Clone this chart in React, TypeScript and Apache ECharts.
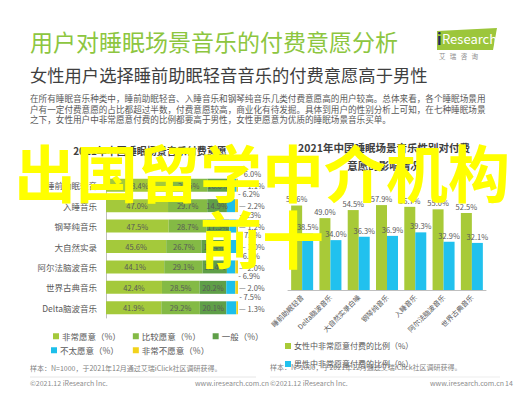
import React, { useEffect, useRef } from "react";
import * as echarts from "echarts";

const leftCategories = ["睡前助眠轻音", "入睡音乐", "钢琴纯音乐", "大自然实录", "阿尔法脑波音乐", "世界古典音乐", "Delta脑波音乐"];
const veryWilling = [48.4, 47.0, 47.5, 45.6, 44.1, 42.4, 41.9];
const ratherWilling = [28.5, 29.7, 28.7, 26.7, 29.1, 28.5, 29.2];
const neutral = [16.0, 14.9, 17.3, 19.4, 18.4, 20.2, 20.1];
const notVery = [6.0, 6.2, 5.3, 7.3, 6.4, 6.9, 7.5];
const notAtAll = [1.1, 2.2, 1.2, 1.0, 2.0, 2.0, 1.3];

const rightCategories = ["睡前助眠轻音", "Delta脑波音乐", "大自然实录白噪", "钢琴纯音乐", "入睡音乐", "阿尔法脑波音乐", "世界古典音乐"];
const femaleVery = [57.6, 49.0, 54.5, 57.9, 56.7, 55.0, 52.5];
const maleVery = [38.5, 34.0, 36.3, 36.9, 39.3, 32.9, 32.1];

const leftSeriesNames = ["非常愿意（%）", "比较愿意（%）", "一般（%）", "不太愿意（%）", "非常不愿意（%）"];
const rightSeriesNames = ["女性中非常愿意付费的比例（%）", "男性中非常愿意付费的比例（%）"];

const FONT = "'Noto Sans CJK SC', 'Noto Sans', sans-serif";
const pct = (p: any) => Number(p.value).toFixed(1) + "%";

export default function App() {
  const ref = useRef<HTMLDivElement>(null);
  useEffect(() => {
    document.body.style.margin = "0";
    const chart = echarts.init(ref.current!, null, { renderer: "svg" });
    const labelGray = "#595959";
    const inside = { show: true, position: "inside", fontSize: 7.5, color: labelGray, fontFamily: FONT, formatter: pct };
    const option: any = {
      animation: false,
      backgroundColor: "#ffffff",
      textStyle: { fontFamily: FONT },
      grid: [
        { left: 106, right: 286, top: 175, bottom: 75 },
        { left: 288, right: 38, top: 202, bottom: 103 },
      ],
      xAxis: [
        { type: "value", gridIndex: 0, min: 0, max: 100, show: false },
        {
          type: "category", gridIndex: 1, data: rightCategories,
          axisLine: { lineStyle: { color: "#bfbfbf" } }, axisTick: { show: false },
          axisLabel: { rotate: 45, interval: 0, fontSize: 7, color: labelGray, margin: 6, fontFamily: FONT },
        },
      ],
      yAxis: [
        {
          type: "category", gridIndex: 0, data: leftCategories, inverse: true,
          axisLine: { lineStyle: { color: "#bfbfbf" } }, axisTick: { show: false },
          axisLabel: { fontSize: 8.5, color: labelGray, margin: 9, fontFamily: FONT },
        },
        { type: "value", gridIndex: 1, min: 0, max: 60, show: false },
      ],
      legend: [
        {
          data: leftSeriesNames.slice(0, 3), left: 48, top: 327, itemWidth: 6, itemHeight: 6, itemGap: 12, icon: "rect",
          textStyle: { fontSize: 8.5, color: labelGray, fontFamily: FONT, padding: [0, 0, 0, -2] },
        },
        {
          data: leftSeriesNames.slice(3), left: 46, top: 341, itemWidth: 6, itemHeight: 6, itemGap: 14, icon: "rect",
          textStyle: { fontSize: 8.5, color: labelGray, fontFamily: FONT, padding: [0, 0, 0, -2] },
        },
        {
          data: rightSeriesNames, left: 280, top: 337, itemWidth: 6, itemHeight: 6, itemGap: 10, icon: "rect",
          textStyle: { fontSize: 8, color: labelGray, fontFamily: FONT, padding: [0, 0, 0, -2] },
        },
      ],
      series: [
        { name: leftSeriesNames[0], type: "bar", stack: "t", xAxisIndex: 0, yAxisIndex: 0, barWidth: 13, data: veryWilling, itemStyle: { color: "#a4c93b" }, label: inside },
        { name: leftSeriesNames[1], type: "bar", stack: "t", xAxisIndex: 0, yAxisIndex: 0, barWidth: 13, data: ratherWilling, itemStyle: { color: "#84ba45" }, label: inside },
        { name: leftSeriesNames[2], type: "bar", stack: "t", xAxisIndex: 0, yAxisIndex: 0, barWidth: 13, data: neutral, itemStyle: { color: "#5f9f48" }, label: inside },
        {
          name: leftSeriesNames[3], type: "bar", stack: "t", xAxisIndex: 0, yAxisIndex: 0, barWidth: 13, data: notVery, itemStyle: { color: "#1dbfea" },
          label: { show: true, position: ["100%", -9], offset: [3, 0], fontSize: 7.5, color: labelGray, fontFamily: FONT, formatter: (p: any) => "- " + pct(p) },
        },
        {
          name: leftSeriesNames[4], type: "bar", stack: "t", xAxisIndex: 0, yAxisIndex: 0, barWidth: 13, data: notAtAll, itemStyle: { color: "#f2d21b" },
          label: { show: true, position: ["100%", 3], offset: [1, 0], fontSize: 7.5, color: labelGray, fontFamily: FONT, formatter: (p: any) => "— " + pct(p) },
        },
        {
          name: rightSeriesNames[0], type: "bar", xAxisIndex: 1, yAxisIndex: 1, barWidth: 11, barGap: "0%", data: femaleVery, itemStyle: { color: "#a8ca38" },
          label: { show: true, position: "top", distance: 3, fontSize: 7.5, color: labelGray, fontFamily: FONT, formatter: pct },
        },
        {
          name: rightSeriesNames[1], type: "bar", xAxisIndex: 1, yAxisIndex: 1, barWidth: 11, barGap: "0%", data: maleVery, itemStyle: { color: "#21c1ee" },
          label: { show: true, position: "top", distance: 3, fontSize: 7.5, color: labelGray, fontFamily: FONT, formatter: pct },
        },
      ],
      graphic: [
        { type: "text", left: 30, top: 29, style: { text: "用户对睡眠场景音乐的付费意愿分析", font: `23px ${FONT}`, fill: "#8dc63f" } },
        { type: "text", left: 30, top: 66, style: { text: "女性用户选择睡前助眠轻音音乐的付费意愿高于男性", font: `17.3px ${FONT}`, fill: "#3f3f3f" } },
        {
          type: "text", left: 30, top: 93,
          style: {
            text: "在所有睡眠音乐种类中，睡前助眠轻音、入睡音乐和钢琴纯音乐几类付费意愿高的用户较高。总体来看，各个睡眠场景用\n户有一定付费意愿的占比都超过半数，付费意愿较高，商业化有待发掘。具体到用户的性别分析上可知，在七种睡眠场景\n之下，女性用户中非常愿意付费的比例都要高于男性，女性更愿意为优质的睡眠场景音乐买单。",
            font: `8.6px ${FONT}`, fill: "#595959", lineHeight: 10.5,
          },
        },
        { type: "polygon", shape: { points: [[437, 31], [497, 28], [493, 50], [437, 50]] }, style: { fill: "#9cc63b" } },
        { type: "text", left: 437, top: 31, style: { text: "i", font: `bold 15px ${FONT}`, fill: "#1d2a5a" } },
        { type: "text", left: 442, top: 32, style: { text: "Research", font: `13px ${FONT}`, fill: "#ffffff" } },
        { type: "text", left: 439, top: 53, style: { text: "艾   瑞   咨   询", font: `6.5px ${FONT}`, fill: "#8c8c8c" } },
        { type: "text", x: 150, y: 150, style: { text: "2021年中国睡眠场景音乐付费意愿", font: `bold 10px ${FONT}`, fill: "#404040", align: "center", verticalAlign: "middle" } },
        { type: "text", x: 384, y: 156, style: { text: "2021年中国睡眠场景音乐性别对付费\n意愿的影响情况", font: `bold 10.5px ${FONT}`, fill: "#404040", align: "center", verticalAlign: "middle", lineHeight: 18 } },
        { type: "text", left: 30, top: 364, style: { text: "样本：N=1000，于2021年12月通过艾瑞iClick社区调研获得。", font: `7px ${FONT}`, fill: "#7f7f7f" } },
        { type: "text", left: 270, top: 363, style: { text: "样本：N=1000，于2021年12月通过艾瑞iClick社区调研获得。", font: `7px ${FONT}`, fill: "#7f7f7f" } },
        { type: "line", shape: { x1: 30, y1: 377, x2: 256, y2: 377 }, style: { stroke: "#e0e0e0", lineWidth: 0.8 } },
        { type: "line", shape: { x1: 270, y1: 377, x2: 500, y2: 377 }, style: { stroke: "#e8e8e8", lineWidth: 0.8 } },
        { type: "text", left: 30, top: 379, style: { text: "©2021.12 iResearch Inc.", font: `7px ${FONT}`, fill: "#8c8c8c" } },
        { type: "text", left: 195, top: 379, style: { text: "www.iresearch.com.cn", font: `7px ${FONT}`, fill: "#8c8c8c" } },
        { type: "text", left: 270, top: 379, style: { text: "©2021.12 iResearch Inc.", font: `7px ${FONT}`, fill: "#8c8c8c" } },
        { type: "text", left: 430, top: 379, style: { text: "www.iresearch.com.cn", font: `7px ${FONT}`, fill: "#8c8c8c" } },
        { type: "text", left: 505, top: 379, style: { text: "14", font: `7px ${FONT}`, fill: "#8c8c8c" } },
        { type: "text", x: 262, y: 171, z: 100, style: { text: "出国留学中介机构", font: `bold 62px ${FONT}`, fill: "#ffff00", align: "center", verticalAlign: "middle" } },
        { type: "text", x: 262, y: 237, z: 100, style: { text: "前十", font: `bold 62px ${FONT}`, fill: "#ffff00", align: "center", verticalAlign: "middle" } },
      ],
    };
    chart.setOption(option);
    return () => chart.dispose();
  }, []);
  return <div ref={ref} style={{ position: "fixed", left: 0, top: 0, width: 524, height: 393, background: "#fff" }} />;
}
